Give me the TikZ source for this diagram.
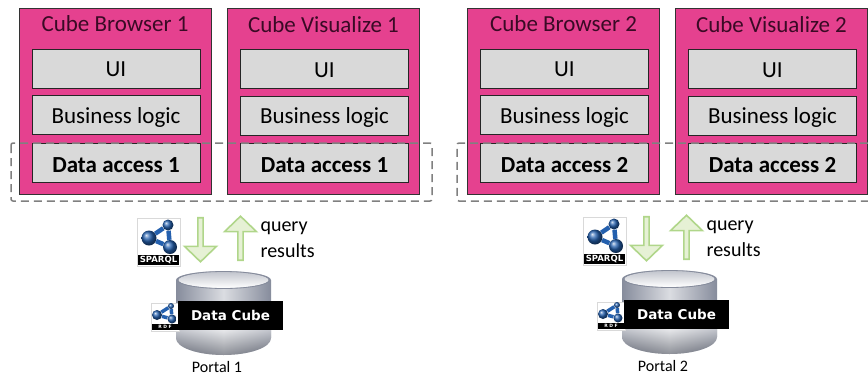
\documentclass[tikz,border=0pt]{standalone}
\usepackage{fontspec}
\setmainfont{Carlito}
\newfontfamily\cubefont{DejaVu Sans}
\usetikzlibrary{shapes.arrows}
\definecolor{panelpink}{HTML}{E5418F}
\definecolor{layergrey}{HTML}{D9D9D9}
\definecolor{titledark}{HTML}{3A0A25}
\definecolor{dashgrey}{HTML}{808080}
\definecolor{arrowgreen}{HTML}{B0D68A}
\definecolor{arrowfill}{HTML}{E6F1D5}
\definecolor{ballblue}{HTML}{2460AE}
\definecolor{steel}{HTML}{868C9C}
\tikzset{
  panelbox/.style={draw=black!80,line width=1pt,fill=panelpink,minimum width=192pt,minimum height=186pt},
  layerbox/.style={draw=black!85,line width=1pt,fill=layergrey,minimum width=168pt,minimum height=39pt,text height=19pt,text depth=3pt,font=\fontsize{23}{26}\selectfont},
  accessbox/.style={layerbox,text height=20pt,text depth=1pt},
  paneltitle/.style={text=titledark,font=\fontsize{23}{26}\selectfont},
  flowarrow/.style={shape=single arrow,draw=arrowgreen,line width=1.6pt,fill=arrowfill,
    minimum width=32pt,minimum height=44pt,single arrow tip angle=92,single arrow head extend=4pt,inner sep=0pt},
  flowtext/.style={anchor=west,font=\fontsize{20}{23}\selectfont},
  portaltext/.style={font=\fontsize{16}{19}\selectfont},
  logobox/.style={draw=black!15,fill=white,inner sep=0pt},
  logobar/.style={fill=black,text=white,inner sep=0pt,font=\cubefont\bfseries},
  atom/.style={circle,shade,ball color=ballblue,inner sep=0pt},
  dashframe/.style={draw=dashgrey,line width=1.5pt,dash pattern=on 8pt off 5pt,rounded corners=2pt}
}
\begin{document}
\begin{tikzpicture}[x=1pt,y=-1pt]
\useasboundingbox (0,0) rectangle (868,376);
% the four applications
\foreach \px/\py/\nm/\txt/\num in {115/101/browserA/Cube Browser/1,323.5/101.5/visualA/Cube Visualize/1,563.5/101/browserB/Cube Browser/2,771.5/101.5/visualB/Cube Visualize/2}{
  \node[panelbox] (\nm) at (\px,\py) {};
  \node[paneltitle] (title\nm) at (\px,\py-77) {\txt{} \num};
  \node[layerbox] (ui\nm) at (\px+1,\py-32.5) {UI};
  \node[layerbox] (logic\nm) at (\px+1,\py+14) {Business logic};
  \node[accessbox] (access\nm) at (\px+1,\py+61.5) {\textbf{Data access \num}};
}
% frames round the data access
\draw[dashframe] (11,143) rectangle (432,201);
\draw[dashframe] (868,143) -- (457,143) -- (457,201) -- (868,201);
% the two portals
\foreach \dx/\dy/\num/\nm in {0/0/1/A,446/-1/2/B}{
  \begin{scope}[shift={(\dx,\dy)}]
    \node[flowarrow,rotate=-90] (down\nm) at (200.5,238.5) {};
    \node[flowarrow,rotate=90] (up\nm) at (240.5,239.5) {};
    \node[flowtext] (query\nm) at (257,228) {query};
    \node[flowtext] (results\nm) at (257,251) {results};
    % sparql logo
    \node[logobox,minimum width=43pt,minimum height=48pt] (sparql\nm) at (158.5,242) {};
    \node[logobar,minimum width=41pt,minimum height=10pt,font=\cubefont\bfseries\fontsize{8.5}{9}\selectfont] (sparqlbar\nm) at (158.5,260) {SPARQL};
    \node[atom,minimum size=11pt] (sa\nm) at (168,225) {};
    \node[atom,minimum size=15pt] (sb\nm) at (149,238) {};
    \node[atom,minimum size=14pt] (sc\nm) at (170,247) {};
    \draw[ballblue,line width=4.5pt] (sa\nm) -- (sb\nm) -- (sc\nm) -- (sa\nm);
    % database
    \shade[left color=steel,right color=steel,middle color=white!70!steel]
      (176,280) arc[start angle=180,end angle=0,x radius=47.5pt,y radius=9pt]
      -- (271,338) arc[start angle=0,end angle=-180,x radius=47.5pt,y radius=17pt] -- cycle;
    \shade[top color=white,bottom color=steel!60!black,opacity=.55]
      (176,328) -- (271,328) -- (271,338) arc[start angle=0,end angle=-180,x radius=47.5pt,y radius=17pt] -- cycle;
    \shade[top color=steel!50,bottom color=white]
      (223.5,280) ellipse[x radius=45pt,y radius=8pt];
    \draw[steel,line width=.8pt] (223.5,280) ellipse[x radius=46pt,y radius=8.5pt];
    % rdf logo and label
    \node[logobox,minimum width=28pt,minimum height=28pt] (rdf\nm) at (165,317) {};
    \node[logobar,minimum width=27pt,minimum height=6pt,font=\cubefont\bfseries\fontsize{4.5}{5}\selectfont] (rdfbar\nm) at (165,327) {R\,\,D\,\,F};
    \node[atom,minimum size=6pt] (ra\nm) at (171,306) {};
    \node[atom,minimum size=10pt] (rb\nm) at (157,315) {};
    \node[atom,minimum size=9pt] (rc\nm) at (172,319) {};
    \draw[ballblue,line width=3.5pt] (ra\nm) -- (rb\nm) -- (rc\nm) -- (ra\nm);
    \node[logobar,minimum width=105pt,minimum height=29pt,font=\cubefont\bfseries\fontsize{13.5}{16}\selectfont] (cube\nm) at (230.5,315.5) {Data Cube};
    \node[portaltext] (portal\nm) at (217,367) {Portal \num};
  \end{scope}
}
\end{tikzpicture}
\end{document}
